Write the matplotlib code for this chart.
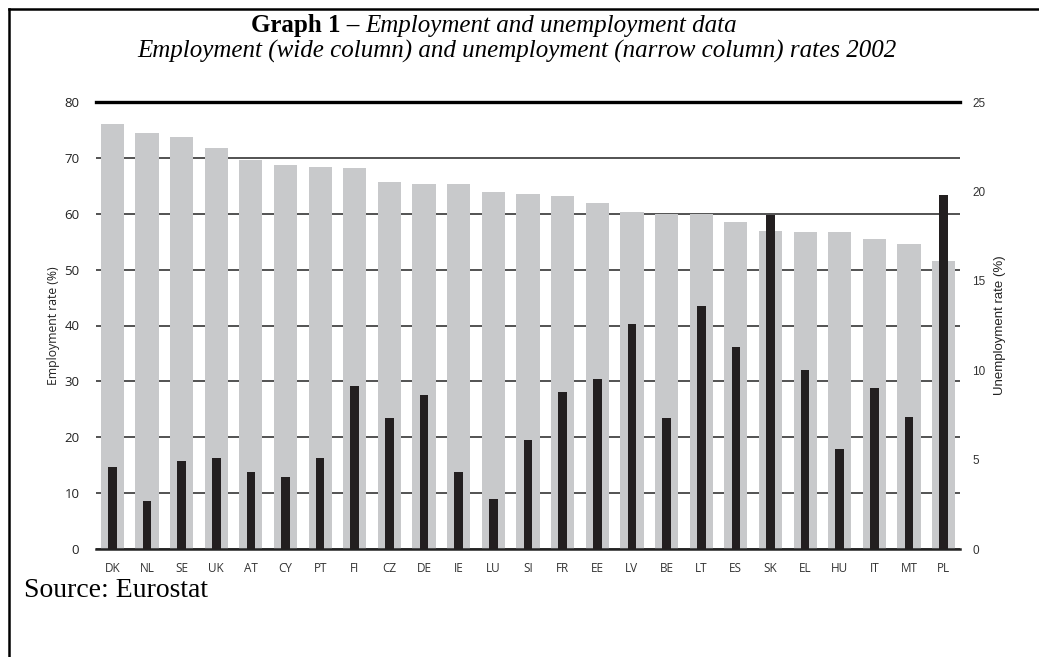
import matplotlib
matplotlib.use("Agg")
import matplotlib.pyplot as plt
from matplotlib.lines import Line2D
import numpy as np

# Datos (tasas 2002)
countries = ["DK", "NL", "SE", "UK", "AT", "CY", "PT", "FI", "CZ", "DE", "IE", "LU",
             "SI", "FR", "EE", "LV", "BE", "LT", "ES", "SK", "EL", "HU", "IT", "MT", "PL"]
employment = [76.0, 74.4, 73.7, 71.8, 69.6, 68.8, 68.4, 68.1, 65.6, 65.3, 65.3, 63.9,
              63.5, 63.1, 62.0, 60.4, 60.0, 60.0, 58.6, 57.0, 56.7, 56.7, 55.5, 54.6, 51.6]
unemployment = [4.6, 2.7, 4.9, 5.1, 4.3, 4.0, 5.1, 9.1, 7.3, 8.6, 4.3, 2.8,
                6.1, 8.8, 9.5, 12.6, 7.3, 13.6, 11.3, 18.7, 10.0, 5.6, 9.0, 7.4, 19.8]

W, H = 1039, 657
fig = plt.figure(figsize=(W / 100, H / 100), dpi=100)

ax = fig.add_axes([96 / W, (H - 549) / H, 864 / W, 447 / H])
x = np.arange(len(countries))

ax.bar(x, employment, width=0.67, color="#c8c9cb", zorder=2)
ax.set_ylim(0, 80)
ax.set_xlim(-0.47, len(countries) - 1 + 0.47)
ax.set_yticks(range(0, 81, 10))
ax.yaxis.grid(True, color="#444444", linewidth=1.3, zorder=1)
ax.set_axisbelow(True)

for s in ["left", "right"]:
    ax.spines[s].set_visible(False)
ax.spines["top"].set_linewidth(2.4)
ax.spines["top"].set_color("black")
ax.spines["bottom"].set_linewidth(1.8)
ax.spines["bottom"].set_color("#222222")

ax.set_xticks(x)
ax.set_xticklabels(countries, fontfamily="Open Sans", fontsize=8.5, color="#333333")
ax.tick_params(axis="x", length=0, pad=9)
ax.tick_params(axis="y", length=0, pad=12, labelsize=9.5, labelcolor="#222222")
for t in ax.get_yticklabels():
    t.set_fontfamily("Open Sans")
ax.set_ylabel("Employment rate (%)", fontfamily="Open Sans", fontsize=8.8,
              color="#222222", labelpad=3)

ax2 = ax.twinx()
ax2.bar(x, unemployment, width=0.25, color="#231f20", zorder=3)
ax2.set_ylim(0, 25)
ax2.set_yticks(range(0, 26, 5))
for s in ["left", "right", "top", "bottom"]:
    ax2.spines[s].set_visible(False)
ax2.tick_params(axis="y", length=0, pad=9, labelsize=8.5, labelcolor="#333333")
for t in ax2.get_yticklabels():
    t.set_fontfamily("Liberation Sans")
ax2.set_ylabel("Unemployment rate (%)", fontfamily="Liberation Sans", fontsize=9.5,
               color="#222222", labelpad=6)

# Titulo
r = fig.canvas.get_renderer()
t1 = fig.text(0, 1 - 32 / H, "Graph 1 \u2013 ", fontfamily="Liberation Serif",
              fontweight="bold", fontsize=18, va="baseline")
t2 = fig.text(0, 1 - 32 / H, "Employment and unemployment data",
              fontfamily="Liberation Serif", fontstyle="italic", fontsize=18, va="baseline")
w1 = t1.get_window_extent(r).width
w2 = t2.get_window_extent(r).width
x0 = (494 - (w1 + w2) / 2)
t1.set_x(x0 / W)
t2.set_x((x0 + w1) / W)
fig.text(517 / W, 1 - 58 / H,
         "Employment (wide column) and unemployment (narrow column) rates 2002",
         fontfamily="Liberation Serif", fontstyle="italic", fontsize=18,
         ha="center", va="baseline")

fig.text(24 / W, 1 - 597 / H, "Source: Eurostat", fontfamily="Liberation Serif",
         fontsize=20, va="baseline")

# Marco
fig.add_artist(Line2D([9 / W, 1], [1 - 9 / H, 1 - 9 / H], color="black", linewidth=1.8))
fig.add_artist(Line2D([9 / W, 9 / W], [0, 1 - 9 / H], color="black", linewidth=1.8))

fig.savefig("out.png", dpi=100)
